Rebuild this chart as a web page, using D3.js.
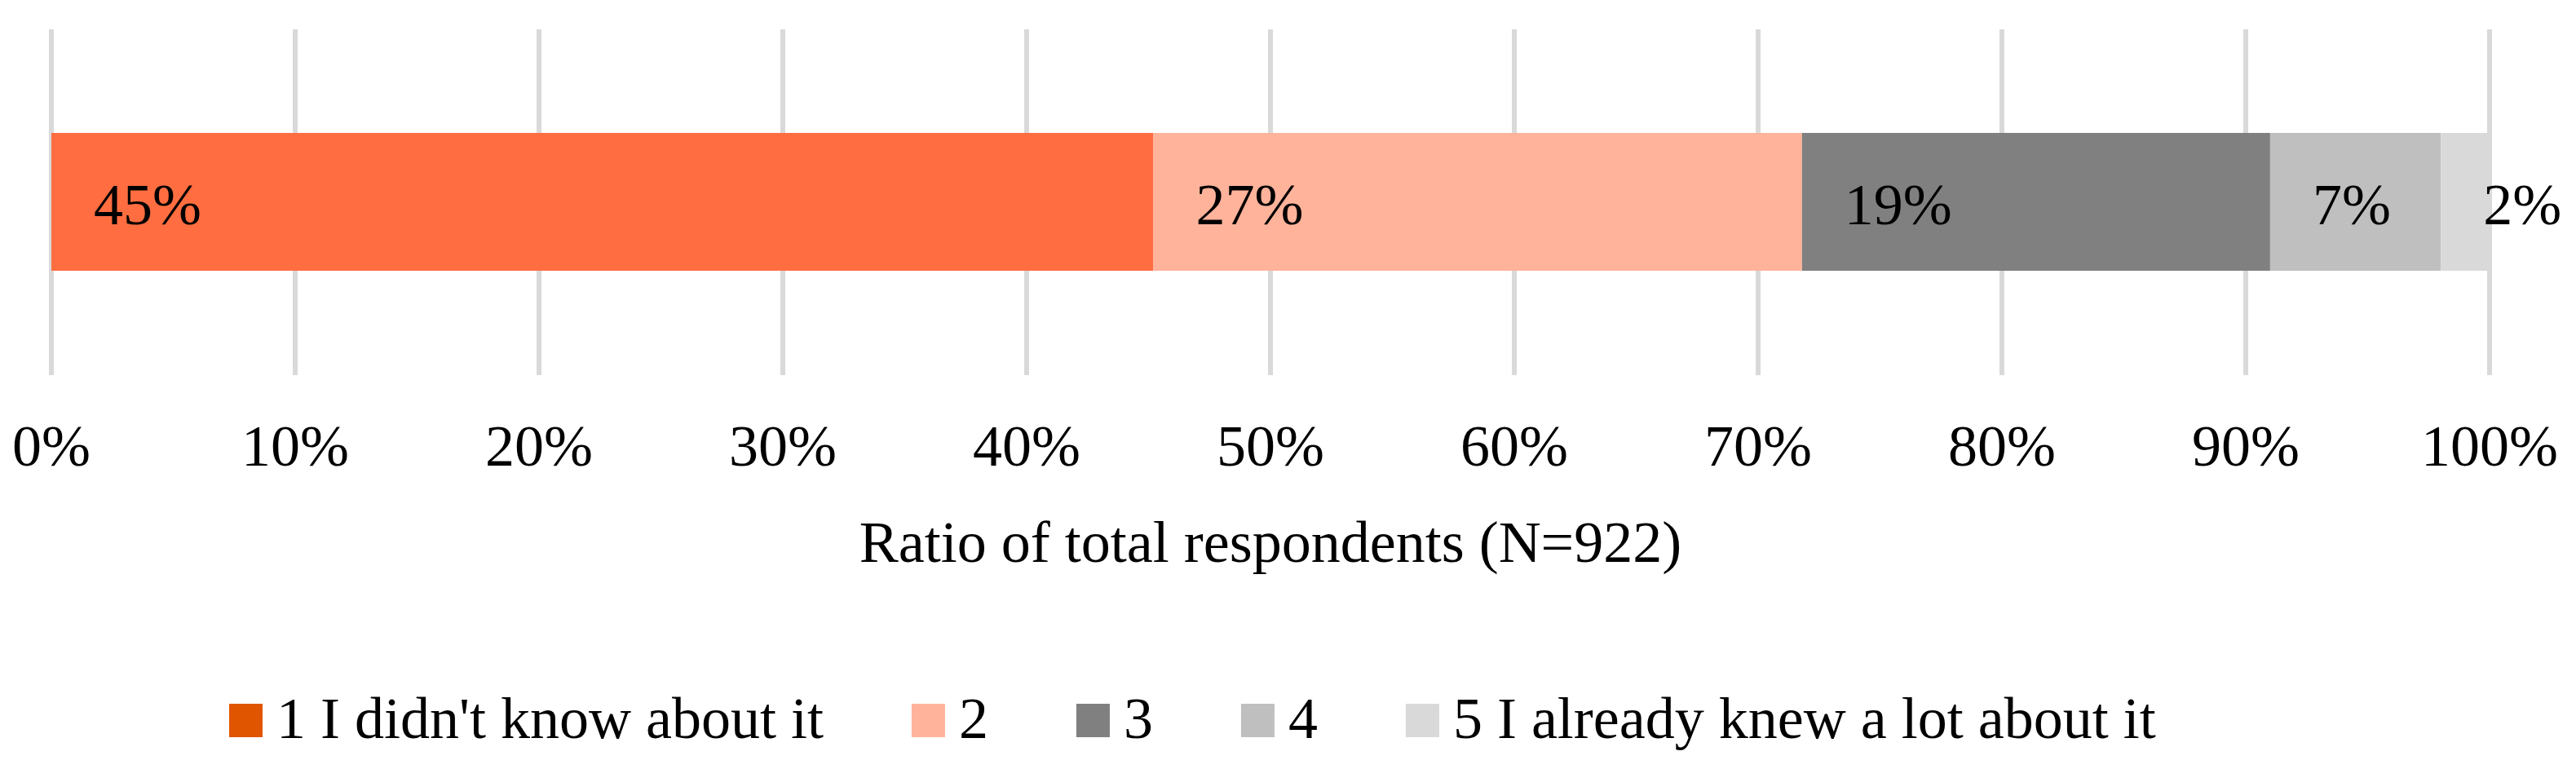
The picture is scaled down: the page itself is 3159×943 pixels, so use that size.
<!DOCTYPE html>
<html>
<head>
<meta charset="utf-8">
<script src="https://cdn.jsdelivr.net/npm/d3@7"></script>
<style>
  body { margin: 0; background: #fff; }
  text { font-family: "Liberation Serif", "Times New Roman", serif; fill: #000; }
</style>
</head>
<body>
<div id="chart"></div>
<script>
const categories = ["1 I didn't know about it", "2", "3", "4", "5 I already knew a lot about it"];
const values = [45.2, 26.6, 19.2, 7.0, 2.0];
const labels = ["45%", "27%", "19%", "7%", "2%"];
const ticks = [0, 10, 20, 30, 40, 50, 60, 70, 80, 90, 100];
const barColors = ["#FF6D40", "#FFB39B", "#808080", "#BFBFBF", "#D9D9D9"];
const legendColors = ["#E05500", "#FFB39B", "#808080", "#BFBFBF", "#D9D9D9"];

const W = 3159, H = 943;
const margin = { left: 63, right: 106 };

const svg = d3.select("#chart").append("svg")
    .attr("width", W).attr("height", H);

const x = d3.scaleLinear().domain([0, 100]).range([margin.left, W - margin.right]);

// gridlines
svg.append("g").selectAll("line")
  .data(ticks)
  .join("line")
    .attr("x1", d => x(d)).attr("x2", d => x(d))
    .attr("y1", 36).attr("y2", 460)
    .attr("stroke", "#D9D9D9").attr("stroke-width", 6);

// stacked segments
let acc = 0;
const segs = values.map((v, i) => { const s = { start: acc, end: acc + v, i }; acc += v; return s; });

svg.append("g").selectAll("rect")
  .data(segs)
  .join("rect")
    .attr("x", d => x(d.start))
    .attr("width", d => x(d.end) - x(d.start))
    .attr("y", 163).attr("height", 169)
    .attr("fill", d => barColors[d.i]);

svg.append("g").selectAll("text")
  .data(segs)
  .join("text")
    .attr("x", d => x(d.start) + 52)
    .attr("y", 275)
    .attr("font-size", 72)
    .text(d => labels[d.i]);

// tick labels
svg.append("g").selectAll("text")
  .data(ticks)
  .join("text")
    .attr("x", d => x(d))
    .attr("y", 571)
    .attr("text-anchor", "middle")
    .attr("font-size", 72)
    .text(d => d + "%");

svg.append("text")
    .attr("x", (x(0) + x(100)) / 2)
    .attr("y", 689)
    .attr("text-anchor", "middle")
    .attr("font-size", 72)
    .text("Ratio of total respondents (N=922)");

// legend
const legend = svg.append("g");
let lx = 281;
categories.forEach((c, i) => {
  legend.append("rect")
    .attr("x", lx).attr("y", 863).attr("width", 41).attr("height", 41)
    .attr("fill", legendColors[i]);
  const t = legend.append("text")
    .attr("x", lx + 58).attr("y", 905)
    .attr("font-size", 72)
    .text(c);
  lx += 58 + t.node().getComputedTextLength() + 108;
});
</script>
</body>
</html>
